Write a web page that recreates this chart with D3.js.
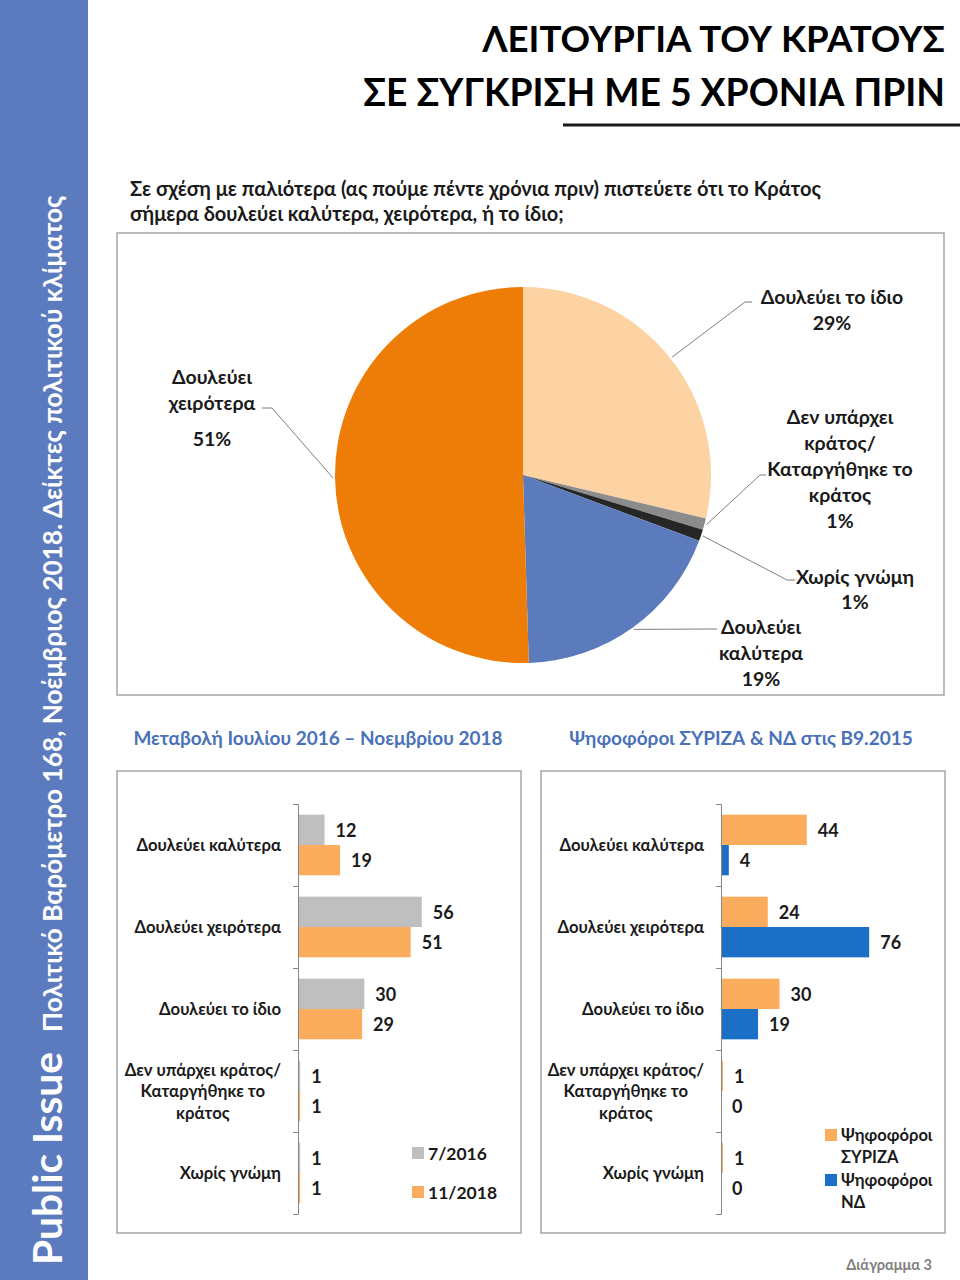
<!DOCTYPE html>
<html lang="el">
<head>
<meta charset="utf-8">
<title>Λειτουργία του κράτους</title>
<script src="https://d3js.org/d3.v7.min.js"></script>
<style>
  body { margin: 0; background: #fff; }
  svg text { font-family: Lato, "Open Sans", sans-serif; font-weight: bold; fill: #1a1a1a; }
</style>
</head>
<body>
<script>
// pie: all answers, November 2018
var pieNames = ["Δουλεύει το ίδιο", "Δεν υπάρχει κράτος/ Καταργήθηκε το κράτος", "Χωρίς γνώμη", "Δουλεύει καλύτερα", "Δουλεύει χειρότερα"];
var pieValues = [29, 1, 1, 19, 51];
var pieLabelLines = [["Δουλεύει το ίδιο", "29%"], ["Δεν υπάρχει", "κράτος/", "Καταργήθηκε το", "κράτος", "1%"], ["Χωρίς γνώμη", "1%"], ["Δουλεύει", "καλύτερα", "19%"], ["Δουλεύει", "χειρότερα", "51%"]];

// bar charts
var categories = ["Δουλεύει καλύτερα", "Δουλεύει χειρότερα", "Δουλεύει το ίδιο", "Δεν υπάρχει κράτος/ Καταργήθηκε το κράτος", "Χωρίς γνώμη"];
var categoryLines = [["Δουλεύει καλύτερα"], ["Δουλεύει χειρότερα"], ["Δουλεύει το ίδιο"], ["Δεν υπάρχει κράτος/", "Καταργήθηκε το", "κράτος"], ["Χωρίς γνώμη"]];
var trendSeries = ["7/2016", "11/2018"];
var trend2016 = [12, 56, 30, 1, 1];
var trend2018 = [19, 51, 29, 1, 1];
var voterSeries = ["Ψηφοφόροι ΣΥΡΙΖΑ", "Ψηφοφόροι ΝΔ"];
var syrizaVoters = [44, 24, 30, 1, 1];
var ndVoters = [4, 76, 19, 0, 0];

var W = 960, H = 1280;
var svg = d3.select("body").append("svg").attr("width", W).attr("height", H);

// shrink/grow a text's font so it spans the wanted width
function fit(t, width) {
  var s = +t.attr("font-size");
  var w = t.node().getComputedTextLength();
  t.attr("font-size", s * width / w);
  return t;
}

// side band
svg.append("rect").attr("x", 0).attr("y", 0).attr("width", 88).attr("height", H).attr("fill", "#5b7bbe");
fit(svg.append("text").attr("transform", "translate(62,1265) rotate(-90)")
  .attr("font-size", 40).style("fill", "#fff").text("Public Issue"), 213);
fit(svg.append("text").attr("transform", "translate(62,1032) rotate(-90)")
  .attr("font-size", 24).style("fill", "#fff")
  .text("Πολιτικό Βαρόμετρο 168, Νοέμβριος 2018. Δείκτες πολιτικού κλίματος"), 837);

// title
fit(svg.append("text").attr("x", 945).attr("y", 52).attr("text-anchor", "end")
  .attr("font-size", 40).style("fill", "#000").text("ΛΕΙΤΟΥΡΓΙΑ ΤΟΥ ΚΡΑΤΟΥΣ"), 463);
fit(svg.append("text").attr("x", 945).attr("y", 106).attr("text-anchor", "end")
  .attr("font-size", 40).style("fill", "#000").text("ΣΕ ΣΥΓΚΡΙΣΗ ΜΕ 5 ΧΡΟΝΙΑ ΠΡΙΝ"), 582);
svg.append("line").attr("x1", 563).attr("x2", 960).attr("y1", 125).attr("y2", 125)
  .attr("stroke", "#1a1a1a").attr("stroke-width", 3);

// question
svg.append("text").attr("x", 130).attr("y", 196).attr("font-size", 20)
  .text("Σε σχέση με παλιότερα (ας πούμε πέντε χρόνια πριν) πιστεύετε ότι το Κράτος");
svg.append("text").attr("x", 130).attr("y", 221).attr("font-size", 20)
  .text("σήμερα δουλεύει καλύτερα, χειρότερα, ή το ίδιο;");

// frames
function frame(x, y, w, h) {
  svg.append("rect").attr("x", x).attr("y", y).attr("width", w).attr("height", h)
    .attr("fill", "none").attr("stroke", "#a6a6a6").attr("stroke-width", 1.5);
}
frame(117, 233, 827, 462);
frame(117, 771, 404, 462);
frame(541, 771, 404, 462);

// ---- pie
var pieColors = ["#fdd3a3", "#8c8c8c", "#262626", "#5b7bbd", "#ed7d07"];
var cx = 523, cy = 475, R = 188;
var arcs = d3.pie().sort(null).value(function(d) { return d; })(pieValues);
var arc = d3.arc().innerRadius(0).outerRadius(R);
var edge = d3.arc().innerRadius(R + 2).outerRadius(R + 2);
var pg = svg.append("g").attr("transform", "translate(" + cx + "," + cy + ")");
pg.selectAll("path.slice").data(arcs).enter().append("path")
  .attr("class", "slice").attr("d", arc)
  .attr("fill", function(d, i) { return pieColors[i]; });

// label placement (page coords): text centre x, first line y, line gap, elbow and tail of leader
var pieLayout = [
  { x: 832, y: 296, gap: 26, elbow: [745, 302], tail: [752, 302] },
  { x: 840, y: 416, gap: 26, elbow: [760, 475], tail: [766, 475] },
  { x: 855, y: 576, gap: 25, elbow: [787, 580], tail: [795, 580] },
  { x: 761, y: 626, gap: 26, elbow: [710, 629], tail: [717, 629] },
  { x: 212, y: 376, gap: 26, elbow: [272, 408], tail: [262, 408] }
];
arcs.forEach(function(a, i) {
  var L = pieLayout[i];
  var p = edge.centroid(a);
  var pts = [[p[0] + cx, p[1] + cy], L.elbow, L.tail];
  svg.append("path").attr("d", d3.line()(pts))
    .attr("fill", "none").attr("stroke", "#7f7f7f").attr("stroke-width", 1);
  pieLabelLines[i].forEach(function(s, j) {
    var extra = (i === 4 && j === 2) ? 10 : 0;
    svg.append("text").attr("x", L.x).attr("y", L.y + j * L.gap + extra)
      .attr("text-anchor", "middle").attr("dominant-baseline", "central")
      .attr("font-size", 19.5).text(s);
  });
});

// ---- sub titles
svg.append("text").attr("x", 318).attr("y", 737).attr("text-anchor", "middle")
  .attr("dominant-baseline", "central").attr("font-size", 19).style("fill", "#4a72b8")
  .text("Μεταβολή Ιουλίου 2016 – Νοεμβρίου 2018");
svg.append("text").attr("x", 741).attr("y", 737).attr("text-anchor", "middle")
  .attr("dominant-baseline", "central").attr("font-size", 19).style("fill", "#4a72b8")
  .text("Ψηφοφόροι ΣΥΡΙΖΑ & ΝΔ στις Β9.2015");

// ---- grouped bars
function barChart(opt) {
  var y = d3.scaleBand().domain(categories).range([804, 1214]).paddingInner(0.26).paddingOuter(0.13);
  var sub = d3.scaleBand().domain([0, 1]).range([0, y.bandwidth()]);
  var x = d3.scaleLinear().domain([0, 100]).range([opt.x0, opt.x0 + opt.span]);
  var g = svg.append("g");

  var rows = categories.map(function(c, i) { return { cat: c, vals: [opt.a[i], opt.b[i]] }; });
  var row = g.selectAll("g.row").data(rows).enter().append("g").attr("class", "row")
    .attr("transform", function(d) { return "translate(0," + y(d.cat) + ")"; });
  row.selectAll("rect").data(function(d) { return d.vals; }).enter().append("rect")
    .attr("x", x(0)).attr("y", function(d, k) { return sub(k); })
    .attr("width", function(d) { return x(d) - x(0); }).attr("height", sub.bandwidth())
    .attr("fill", function(d, k) { return opt.colors[k]; });
  row.selectAll("text.val").data(function(d) { return d.vals; }).enter().append("text")
    .attr("class", "val").attr("x", function(d) { return x(d) + 11; })
    .attr("y", function(d, k) { return sub(k) + sub.bandwidth() / 2; })
    .attr("dominant-baseline", "central").attr("font-size", 18).text(function(d) { return d; });

  // category axis with ticks between categories
  var edges = d3.scaleLinear().domain([0, categories.length]).range([804, 1214]);
  var ax = g.append("g").attr("transform", "translate(" + x(0) + ",0)")
    .call(d3.axisLeft(edges).ticks(categories.length).tickSize(5).tickFormat(""));
  ax.selectAll("path, line").attr("stroke", "#868686");

  // category labels
  categories.forEach(function(c, i) {
    var lines = categoryLines[i];
    var cyc = y(c) + y.bandwidth() / 2;
    var right = x(0) - 17;
    var ts = lines.map(function(s, j) {
      return g.append("text").attr("y", cyc + (j - (lines.length - 1) / 2) * 21.5)
        .attr("dominant-baseline", "central").attr("font-size", 16.7).text(s);
    });
    var maxW = d3.max(ts, function(t) { return t.node().getComputedTextLength(); });
    ts.forEach(function(t) {
      t.attr("x", right - maxW / 2).attr("text-anchor", "middle");
    });
  });

  // legend
  opt.legend.forEach(function(L, k) {
    g.append("rect").attr("x", L.x).attr("y", L.y - 6).attr("width", 12).attr("height", 12)
      .attr("fill", opt.colors[k]);
    L.lines.forEach(function(s, j) {
      g.append("text").attr("x", L.x + 16).attr("y", L.y + j * 22)
        .attr("dominant-baseline", "central").attr("font-size", L.size).text(s);
    });
  });
}

barChart({
  a: trend2016, b: trend2018, x0: 298, span: 221,
  colors: ["#bfbfbf", "#fbac5c"],
  legend: [
    { x: 412, y: 1153, lines: [trendSeries[0]], size: 17.5 },
    { x: 412, y: 1192, lines: [trendSeries[1]], size: 17.5 }
  ]
});
barChart({
  a: syrizaVoters, b: ndVoters, x0: 721, span: 195,
  colors: ["#fbac5c", "#1b6fc6"],
  legend: [
    { x: 825, y: 1135, lines: voterSeries[0].split(" "), size: 16.5 },
    { x: 825, y: 1180, lines: voterSeries[1].split(" "), size: 16.5 }
  ]
});

// footer
svg.append("text").attr("x", 932).attr("y", 1264).attr("text-anchor", "end")
  .attr("dominant-baseline", "central").attr("font-size", 14.5)
  .style("fill", "#808080").text("Διάγραμμα 3");
</script>
</body>
</html>
